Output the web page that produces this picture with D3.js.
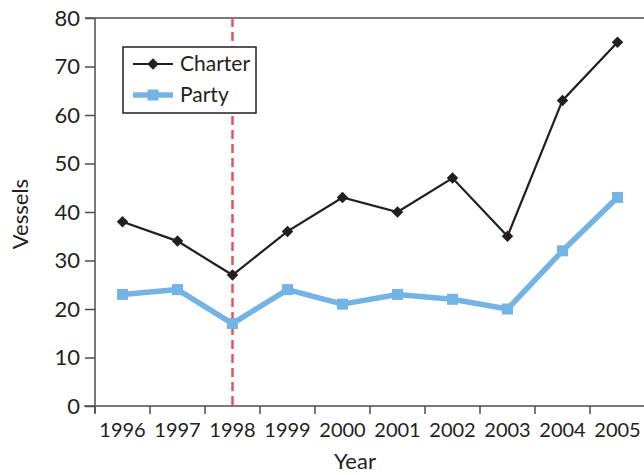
<!DOCTYPE html>
<html><head><meta charset="utf-8">
<script src="https://cdn.jsdelivr.net/npm/d3@7"></script>
<style>body{margin:0;background:#fff}svg{display:block}text{font-family:Lato,"Open Sans",sans-serif;fill:#231f20;font-weight:400}</style>
</head><body><svg id="c" width="644" height="475"></svg>
<script>
const years = ["1996","1997","1998","1999","2000","2001","2002","2003","2004","2005"];
const charter = [38,34,27,36,43,40,47,35,63,75];
const party = [23,24,17,24,21,23,22,20,32,43];
const yTicks = [0,10,20,30,40,50,60,70,80];
const markerYear = "1998";

const svg = d3.select("#c");
const x = d3.scaleBand().domain(years).range([95,645]);
const y = d3.scaleLinear().domain([0,80]).range([406,18]);
const cx = d => x(d) + x.bandwidth()/2;
const axisCol = "#4d4d4d";
const font = "Lato,'Open Sans',sans-serif";

// top frame line
svg.append("line").attr("x1",85).attr("x2",644).attr("y1",y(80)).attr("y2",y(80)).attr("stroke",axisCol).attr("stroke-width",1.5);

// y axis
const ya = svg.append("g").attr("transform","translate(95,0)")
  .call(d3.axisLeft(y).tickValues(yTicks).tickSize(10).tickPadding(5));
ya.select(".domain").remove();
ya.selectAll("line").attr("stroke",axisCol).attr("stroke-width",1.5);
ya.selectAll("text").attr("font-size",22).style("font-family",font).style("font-weight",400).attr("fill","#231f20");
svg.append("line").attr("x1",95).attr("x2",95).attr("y1",y(80)).attr("y2",413).attr("stroke",axisCol).attr("stroke-width",1.5);

// x axis
svg.append("line").attr("x1",84).attr("x2",644).attr("y1",406).attr("y2",406).attr("stroke",axisCol).attr("stroke-width",1.5);
const xa = svg.append("g").attr("transform","translate(0,406)");
xa.selectAll("line.t").data(years).join("line").attr("class","t")
  .attr("x1",d=>x(d)).attr("x2",d=>x(d)).attr("y1",0).attr("y2",8)
  .attr("stroke",axisCol).attr("stroke-width",1.5);
xa.selectAll("text").data(years).join("text")
  .attr("x",d=>cx(d)).attr("y",31).attr("text-anchor","middle").attr("font-size",20).text(d=>d);

// axis titles
svg.append("text").attr("x",355).attr("y",469).attr("text-anchor","middle").attr("font-size",22).text("Year");
svg.append("text").attr("transform","translate(28,214) rotate(-90)").attr("text-anchor","middle").attr("font-size",22).text("Vessels");

// dashed marker line
svg.append("line").attr("x1",cx(markerYear)).attr("x2",cx(markerYear)).attr("y1",y(80)).attr("y2",406)
  .attr("stroke","#e8545a").attr("stroke-width",2.5).attr("stroke-dasharray","9,5");

// party series
const line = d3.line().x((d,i)=>cx(years[i])).y(d=>y(d));
svg.append("path").datum(party).attr("d",line).attr("fill","none").attr("stroke","#74b4e4").attr("stroke-width",5.5).attr("stroke-linejoin","round");
svg.selectAll("rect.p").data(party).join("rect").attr("class","p")
  .attr("x",(d,i)=>cx(years[i])-5.5).attr("y",d=>y(d)-5.5).attr("width",11).attr("height",11).attr("fill","#74b4e4");

// charter series
svg.append("path").datum(charter).attr("d",line).attr("fill","none").attr("stroke","#231f20").attr("stroke-width",2.2);
const diamond = d3.symbol().type(d3.symbolDiamond2).size(85);
svg.selectAll("path.c").data(charter).join("path").attr("class","c")
  .attr("d",diamond).attr("transform",(d,i)=>`translate(${cx(years[i])},${y(d)})`).attr("fill","#231f20");

// legend
const lg = svg.append("g");
lg.append("rect").attr("x",123).attr("y",47).attr("width",133).attr("height",66).attr("fill","#fff").attr("stroke","#231f20").attr("stroke-width",1.5);
lg.append("line").attr("x1",133).attr("x2",173).attr("y1",64).attr("y2",64).attr("stroke","#231f20").attr("stroke-width",2.2);
lg.append("path").attr("d",diamond).attr("transform","translate(153,64)").attr("fill","#231f20");
lg.append("text").attr("x",180).attr("y",71).attr("font-size",21).text("Charter");
lg.append("line").attr("x1",133).attr("x2",173).attr("y1",95).attr("y2",95).attr("stroke","#74b4e4").attr("stroke-width",5.5);
lg.append("rect").attr("x",147.5).attr("y",89.5).attr("width",11).attr("height",11).attr("fill","#74b4e4");
lg.append("text").attr("x",180).attr("y",102).attr("font-size",21).text("Party");
</script></body></html>
